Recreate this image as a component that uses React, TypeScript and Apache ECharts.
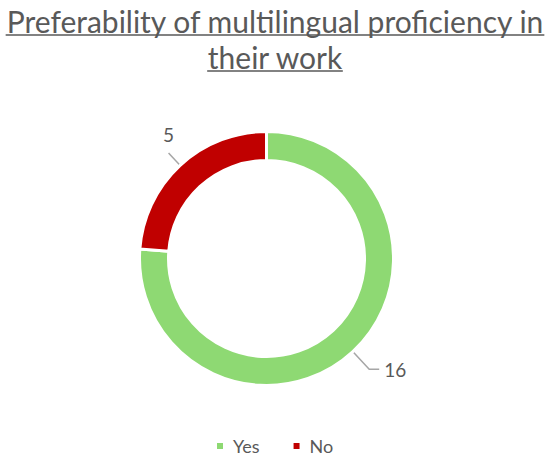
import React, { useEffect, useRef } from "react";
import * as echarts from "echarts";

const categories = ["Yes", "No"];
const values = [16, 5];
const colors = ["#8ED973", "#C00000"];
const titleLines = ["Preferability of multilingual proficiency in", "their work"];

const FONT = "Lato, 'Noto Sans', sans-serif";
const TITLE_SIZE = 30;
const TITLE_COLOR = "#595959";

function measure(text: string, size: number) {
  const c = document.createElement("canvas");
  const ctx = c.getContext("2d")!;
  ctx.font = `${size}px ${FONT}`;
  return ctx.measureText(text).width;
}

export default function App() {
  const ref = useRef<HTMLDivElement>(null);
  useEffect(() => {
    document.body.style.margin = "0";
    if (!ref.current) return;
    const chart = echarts.init(ref.current, null, { renderer: "svg" });
    const W = 550;
    const center = [266.5, 258.5];
    const outerR = 127;
    const innerR = 98;
    const midR = (outerR + innerR) / 2;
    const lineY = [21, 57];
    const graphics: any[] = [];
    titleLines.forEach((t, i) => {
      graphics.push({
        type: "text",
        x: W / 2,
        y: lineY[i],
        style: {
          text: t,
          fontSize: TITLE_SIZE,
          fontFamily: FONT,
          fill: TITLE_COLOR,
          align: "center",
          verticalAlign: "middle",
        },
      });
      const w = measure(t, TITLE_SIZE);
      graphics.push({
        type: "line",
        shape: { x1: W / 2 - w / 2, y1: lineY[i] + 14, x2: W / 2 + w / 2, y2: lineY[i] + 14 },
        style: { stroke: TITLE_COLOR, lineWidth: 1.5 },
      });
    });
    chart.setOption({
      animation: false,
      backgroundColor: "#ffffff",
      graphic: graphics,
      legend: {
        data: categories,
        top: 432,
        left: 210,
        icon: "rect",
        itemWidth: 8,
        itemHeight: 8,
        itemGap: 32,
        textStyle: { fontSize: 18, color: "#595959", fontFamily: FONT, padding: [0, 0, 0, 4] },
      },
      series: [
        {
          type: "pie",
          center,
          radius: [innerR, outerR],
          startAngle: 90,
          clockwise: true,
          avoidLabelOverlap: false,
          itemStyle: { borderColor: "#ffffff", borderWidth: 3 },
          label: {
            show: true,
            position: "outside",
            formatter: "{c}",
            fontSize: 19,
            color: "#595959",
            fontFamily: FONT,
          },
          labelLine: {
            show: true,
            length: 24,
            length2: 10,
            lineStyle: { color: "#A6A6A6", width: 1.5 },
          },
          labelLayout: (params: any) => {
            const pts = params.labelLinePoints;
            if (!pts) return {};
            const k = midR / outerR;
            const p0 = pts[0];
            const np0 = [center[0] + (p0[0] - center[0]) * k, center[1] + (p0[1] - center[1]) * k];
            const newPts = [np0, pts[1], pts[2]];
            if (params.dataIndex === 1) {
              return {
                x: pts[2][0],
                y: pts[2][1] - 9,
                align: "center",
                verticalAlign: "bottom",
                labelLinePoints: newPts,
              };
            }
            return { labelLinePoints: newPts };
          },
          data: categories.map((name, i) => ({
            name,
            value: values[i],
            itemStyle: { color: colors[i] },
            ...(i === 1 ? { labelLine: { length: 17, length2: 0 } } : {}),
          })),
        },
      ],
    });
    return () => chart.dispose();
  }, []);
  return <div ref={ref} style={{ width: 550, height: 459 }} />;
}
